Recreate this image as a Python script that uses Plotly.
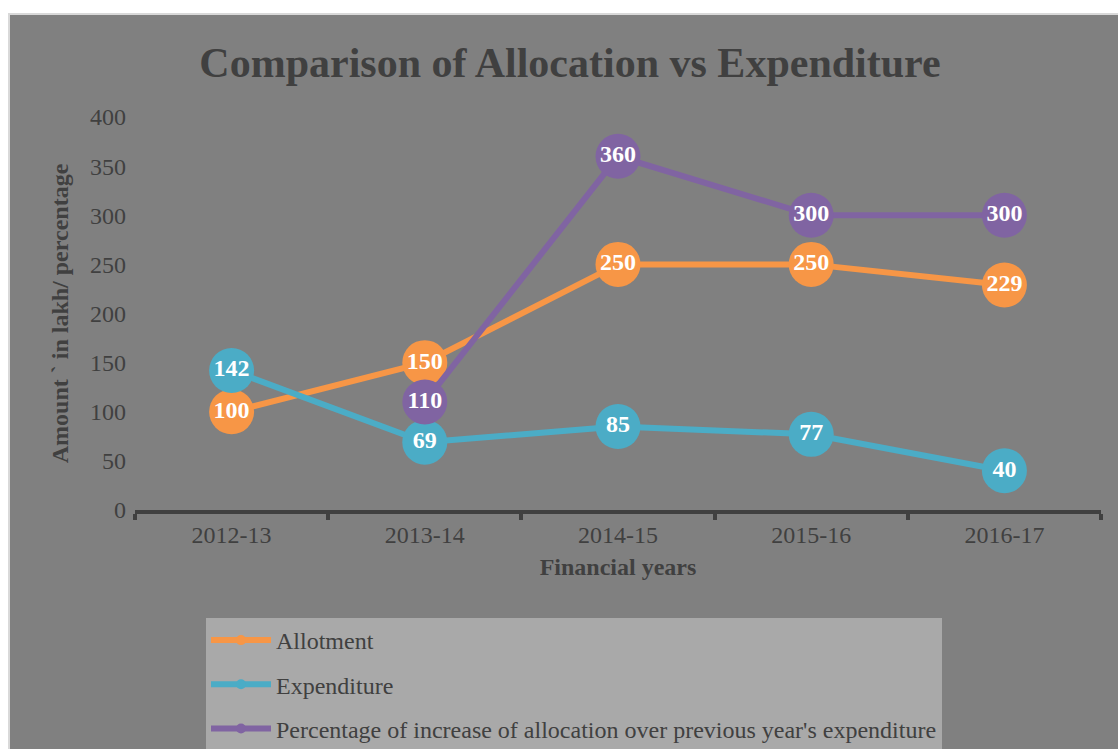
import plotly.graph_objects as go

years = ["2012-13", "2013-14", "2014-15", "2015-16", "2016-17"]
allotment = [100, 150, 250, 250, 229]
expenditure = [142, 69, 85, 77, 40]
pct_increase = [None, 110, 360, 300, 300]
names = ["Allotment", "Expenditure",
         "Percentage of increase of allocation over previous year's expenditure"]
colors = ["#F79646", "#4BACC6", "#8064A2"]
y_ticks = [0, 50, 100, 150, 200, 250, 300, 350, 400]

FONT = "Liberation Serif, Times New Roman, serif"
W, H = 1118, 749
# plot area in page pixels: x 135..1101, y 117..510
L, R, T, B = 135, 1118 - 1101, 117, 749 - 510
pw, ph = W - L - R, H - T - B

fig = go.Figure()
series = [allotment, expenditure, pct_increase]
for vals, name, col in zip(series, names, colors):
    fig.add_trace(go.Scatter(
        x=years, y=vals, name=name, mode="lines+markers+text",
        line=dict(color=col, width=6),
        marker=dict(color=col, size=45),
        text=[("" if v is None else str(v)) for v in vals],
        textposition="middle center",
        textfont=dict(family=FONT, size=24, color="white", weight="bold"),
        showlegend=False, cliponaxis=False, connectgaps=False,
    ))
for i, (name, col) in enumerate(zip(names, colors)):
    fig.add_trace(go.Scatter(
        x=[None], y=[None], name=name, mode="lines+markers",
        legendgroup="g%d" % i,
        line=dict(color=col, width=6), marker=dict(color=col, size=10),
    ))

def px_x(p):  # page px -> paper
    return (p - L) / pw

def px_y(p):
    return (H - B - p) / ph

fig.add_shape(type="rect", xref="paper", yref="paper",
              x0=px_x(9), x1=px_x(1122), y0=px_y(755), y1=px_y(14),
              fillcolor="#808080", line=dict(color="#D9D9D9", width=2),
              layer="below")

fig.update_layout(
    width=W, height=H,
    margin=dict(l=L, r=R, t=T, b=B, autoexpand=False),
    paper_bgcolor="white", plot_bgcolor="rgba(0,0,0,0)",
    font=dict(family=FONT, color="#404040", size=24),
    title=dict(text="<b>Comparison of Allocation vs Expenditure</b>",
               x=px_x(570), xref="paper", xanchor="center",
               y=1 - 62 / H, yanchor="middle",
               font=dict(family=FONT, size=42, color="#404040")),
    xaxis=dict(range=[-0.5, 4.5], showgrid=False, zeroline=False,
               showline=True, linecolor="#404040", linewidth=4,
               ticks="outside", tickcolor="#404040", tickwidth=4, ticklen=6,
               tickson="boundaries",
               tickfont=dict(family=FONT, size=24, color="#404040"),
               title=dict(text="<b>Financial years</b>", standoff=12,
                          font=dict(family=FONT, size=24, color="#404040"))),
    yaxis=dict(range=[0, 400], tickvals=y_ticks, showgrid=False,
               zeroline=False, showline=False, ticks="", ticklabelstandoff=8,
               tickfont=dict(family=FONT, size=24, color="#404040"),
               title=dict(text="<b>Amount ` in lakh/ percentage</b>", standoff=14,
                          font=dict(family=FONT, size=24, color="#404040"))),
    legend=dict(x=px_x(206), y=px_y(618), xanchor="left", yanchor="top",
                bgcolor="#A9A9A9", borderwidth=0,
                font=dict(family=FONT, size=24, color="#404040"),
                tracegroupgap=10, itemwidth=60),
)

fig.write_html("out.html",
               config={"displayModeBar": False},
               post_script="document.body.style.margin='0';"
                           "document.body.style.overflow='hidden';")
